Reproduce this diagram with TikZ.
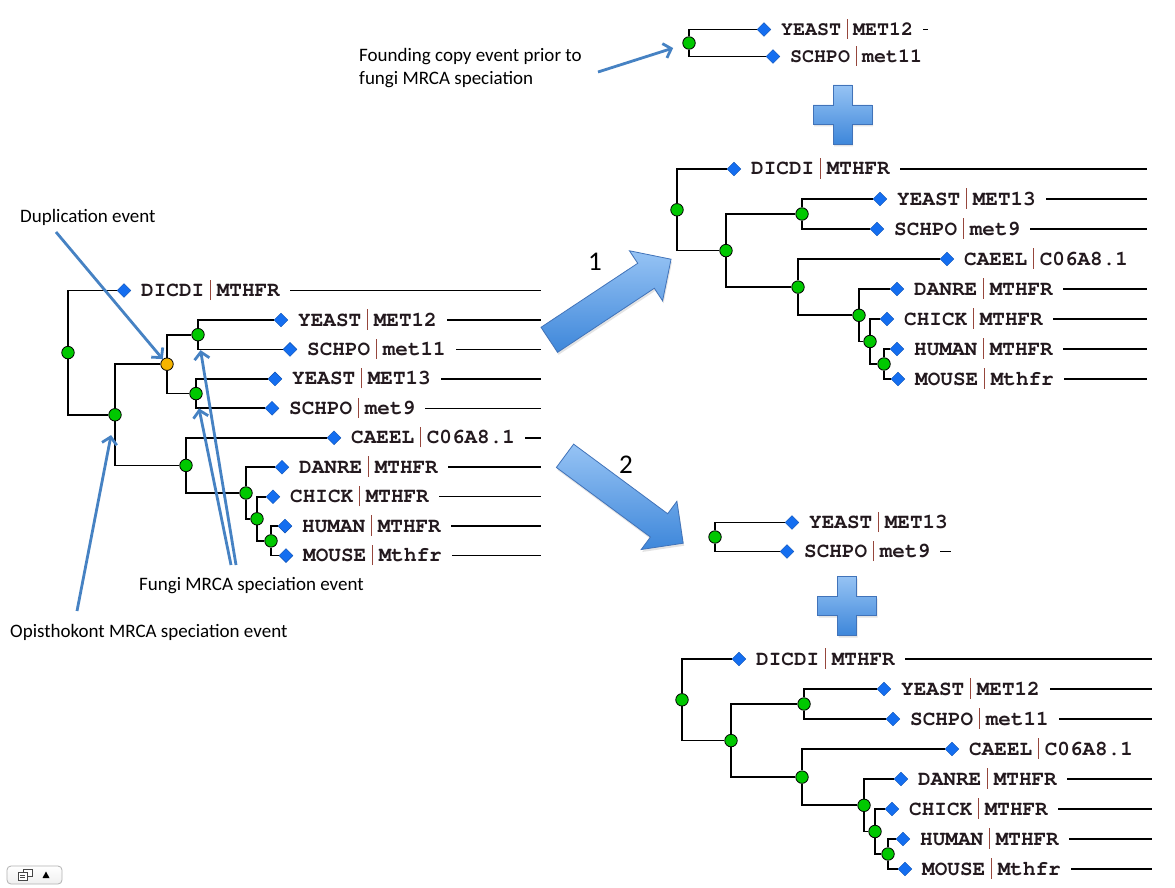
\documentclass[tikz,border=0pt]{standalone}
\usepackage[T1]{fontenc}
\usepackage{fontspec}
\setmainfont{Carlito}
\usetikzlibrary{shapes.geometric,arrows.meta,shadows,calc}
\definecolor{nodegreen}{RGB}{0,200,0}
\definecolor{dupyellow}{RGB}{245,180,0}
\definecolor{leafblue}{RGB}{20,110,240}
\definecolor{txtcol}{RGB}{35,25,30}
\definecolor{barcol}{RGB}{150,70,60}
\definecolor{annblue}{RGB}{70,130,195}
\definecolor{blight}{RGB}{150,195,244}
\definecolor{bdark}{RGB}{62,135,218}
\definecolor{bedge}{RGB}{65,115,185}
\newcommand\cour{\fontencoding{T1}\fontfamily{pcr}\fontseries{b}\selectfont}
\newcommand\gbar{\makebox[0.6em]{\textcolor{barcol}{\rule[-0.17em]{0.06em}{0.97em}}}}
\def\lsz{21}
\newcommand\LeafN[5]{%
  \node[leafd] (#1) at (#2,#3) {};
  \node[lbl] (#1t) at ({#2+17},{#3+6}) {#4\gbar#5};}
\newcommand\Leaf[6]{%
  \LeafN{#1}{#2}{#3}{#4}{#5}%
  \coordinate (#1e) at (#6,#3);
  \draw[rline] ($(#1t.east |- #1e)+(10,0)$) -- (#1e);}
\tikzset{
  gn/.style={circle, draw=black, line width=0.8pt, fill=nodegreen, minimum size=12.5pt, inner sep=0},
  yn/.style={gn, fill=dupyellow},
  leafd/.style={diamond, fill=leafblue, draw=leafblue!75!black, line width=0.4pt, minimum width=14pt, minimum height=14pt, inner sep=0},
  lbl/.style={anchor=base west, inner sep=0, text=txtcol, font=\cour\fontsize{\lsz}{\lsz}\selectfont},
  edge/.style={line width=1.7pt, black},
  rline/.style={line width=1.5pt, black},
  ann/.style={anchor=base west, inner sep=0, font=\fontsize{19}{22}\selectfont, text=black},
  num/.style={inner sep=0, font=\fontsize{27}{30}\selectfont, text=black},
  annarrow/.style={draw=annblue, line width=2.8pt, -{Straight Barb[length=7pt,width=15pt]}},
  blockshape/.style={top color=blight, bottom color=bdark, draw=bedge, line width=0.8pt,
     drop shadow={opacity=0.22, shadow xshift=1pt, shadow yshift=-2.5pt}},
}
\begin{document}
\begin{tikzpicture}[x=1pt,y=-1pt]
\useasboundingbox (0,0) rectangle (1175,888);
\fill[white] (0,0) rectangle (1175,888);

% ---------- left tree ----------
\Leaf{La}{124}{290.5}{DICDI}{MTHFR}{541}
\Leaf{Lb}{281}{320}{YEAST}{MET12}{541}
\Leaf{Lc}{290}{349.4}{SCHPO}{met11}{541}
\Leaf{Ld}{275}{378.9}{YEAST}{MET13}{541}
\Leaf{Le}{272}{408.3}{SCHPO}{met9}{541}
\Leaf{Lf}{334}{437.8}{CAEEL}{C06A8.1}{541}
\Leaf{Lg}{282}{467.2}{DANRE}{MTHFR}{541}
\Leaf{Lh}{273}{496.7}{CHICK}{MTHFR}{541}
\Leaf{Li}{285}{526.1}{HUMAN}{MTHFR}{541}
\Leaf{Lj}{286}{555.6}{MOUSE}{Mthfr}{541}
\node[gn] (LF1) at (198,334.7) {};
\node[gn] (LF2) at (196,393.6) {};
\node[yn] (Ldup) at (167,364.2) {};
\node[gn] (LFn) at (271,540.9) {};
\node[gn] (LE) at (257,518.8) {};
\node[gn] (LD) at (246,493) {};
\node[gn] (LC) at (186,465.4) {};
\node[gn] (LB) at (115,414.8) {};
\node[gn] (LR) at (68,352.6) {};
\draw[edge] (LR) |- (La); \draw[edge] (LR) |- (LB);
\draw[edge] (LB) |- (Ldup); \draw[edge] (LB) |- (LC);
\draw[edge] (Ldup) |- (LF1); \draw[edge] (Ldup) |- (LF2);
\draw[edge] (LF1) |- (Lb); \draw[edge] (LF1) |- (Lc);
\draw[edge] (LF2) |- (Ld); \draw[edge] (LF2) |- (Le);
\draw[edge] (LC) |- (Lf); \draw[edge] (LC) |- (LD);
\draw[edge] (LD) |- (Lg); \draw[edge] (LD) |- (LE);
\draw[edge] (LE) |- (Lh); \draw[edge] (LE) |- (LFn);
\draw[edge] (LFn) |- (Li); \draw[edge] (LFn) |- (Lj);

% ---------- top small tree ----------
\begin{scope}
\def\lsz{20}
\Leaf{Ta}{764}{29.5}{YEAST}{MET12}{928}
\LeafN{Tb}{773}{56.5}{SCHPO}{met11}
\end{scope}
\node[gn] (TR) at (689,43) {};
\draw[edge] (TR) |- (Ta); \draw[edge] (TR) |- (Tb);

% ---------- right tree (1) ----------
\Leaf{Ma}{734}{169}{DICDI}{MTHFR}{1147}
\Leaf{Mb}{880}{199}{YEAST}{MET13}{1147}
\Leaf{Mc}{877}{229}{SCHPO}{met9}{1147}
\LeafN{Md}{947}{259}{CAEEL}{C06A8.1}
\Leaf{Me}{897}{289}{DANRE}{MTHFR}{1147}
\Leaf{Mf}{887}{319}{CHICK}{MTHFR}{1147}
\Leaf{Mg}{897}{349}{HUMAN}{MTHFR}{1147}
\Leaf{Mh}{898}{379}{MOUSE}{Mthfr}{1147}
\node[gn] (MF) at (802,214) {};
\node[gn] (MFn) at (884,364) {};
\node[gn] (ME) at (870,341.5) {};
\node[gn] (MD) at (859,315.3) {};
\node[gn] (MC) at (798,287.1) {};
\node[gn] (MB) at (726,250.6) {};
\node[gn] (MR) at (677,209.8) {};
\draw[edge] (MR) |- (Ma); \draw[edge] (MR) |- (MB);
\draw[edge] (MB) |- (MF); \draw[edge] (MB) |- (MC);
\draw[edge] (MF) |- (Mb); \draw[edge] (MF) |- (Mc);
\draw[edge] (MC) |- (Md); \draw[edge] (MC) |- (MD);
\draw[edge] (MD) |- (Me); \draw[edge] (MD) |- (ME);
\draw[edge] (ME) |- (Mf); \draw[edge] (ME) |- (MFn);
\draw[edge] (MFn) |- (Mg); \draw[edge] (MFn) |- (Mh);

% ---------- bottom small tree ----------
\LeafN{Sa}{792}{522.5}{YEAST}{MET13}
\Leaf{Sb}{787}{551.5}{SCHPO}{met9}{951}
\node[gn] (SR) at (715,537) {};
\draw[edge] (SR) |- (Sa); \draw[edge] (SR) |- (Sb);

% ---------- bottom tree (2) ----------
\Leaf{Na}{739}{659}{DICDI}{MTHFR}{1152}
\Leaf{Nb}{884}{689}{YEAST}{MET12}{1152}
\Leaf{Nc}{893}{719}{SCHPO}{met11}{1152}
\LeafN{Nd}{952}{749}{CAEEL}{C06A8.1}
\Leaf{Ne}{901}{779}{DANRE}{MTHFR}{1152}
\Leaf{Nf}{892}{809}{CHICK}{MTHFR}{1152}
\Leaf{Ng}{903}{839}{HUMAN}{MTHFR}{1152}
\Leaf{Nh}{905}{869}{MOUSE}{Mthfr}{1152}
\node[gn] (NF) at (804,704) {};
\node[gn] (NFn) at (888,854) {};
\node[gn] (NE) at (875,831.5) {};
\node[gn] (ND) at (864,805.3) {};
\node[gn] (NC) at (802,777.1) {};
\node[gn] (NB) at (731,740.6) {};
\node[gn] (NR) at (682,699.8) {};
\draw[edge] (NR) |- (Na); \draw[edge] (NR) |- (NB);
\draw[edge] (NB) |- (NF); \draw[edge] (NB) |- (NC);
\draw[edge] (NF) |- (Nb); \draw[edge] (NF) |- (Nc);
\draw[edge] (NC) |- (Nd); \draw[edge] (NC) |- (ND);
\draw[edge] (ND) |- (Ne); \draw[edge] (ND) |- (NE);
\draw[edge] (NE) |- (Nf); \draw[edge] (NE) |- (NFn);
\draw[edge] (NFn) |- (Ng); \draw[edge] (NFn) |- (Nh);

% ---------- block arrows ----------
\begin{scope}[shift={(549.3,339.8)}, rotate=33.5]
\shade[blockshape] (0,-15) -- (116,-15) -- (116,-30) -- (146,0) -- (116,30) -- (116,15) -- (0,15) -- cycle;
\end{scope}
\begin{scope}[shift={(565,455.8)}, rotate=-36.5]
\shade[blockshape] (0,-14.5) -- (117,-14.5) -- (117,-30) -- (147,0) -- (117,30) -- (117,14.5) -- (0,14.5) -- cycle;
\end{scope}
\node[num] (n1) at (595,262) {1};
\node[num] (n2) at (626,465) {2};

% ---------- plus signs ----------
\begin{scope}[shift={(842.5,114.5)}]
\shade[blockshape] (-9.5,-29.5) -- (9.5,-29.5) -- (9.5,-9.5) -- (29.5,-9.5) -- (29.5,9.5) -- (9.5,9.5) -- (9.5,29.5) -- (-9.5,29.5) -- (-9.5,9.5) -- (-29.5,9.5) -- (-29.5,-9.5) -- (-9.5,-9.5) -- cycle;
\end{scope}
\begin{scope}[shift={(847,605.5)}]
\shade[blockshape] (-9.5,-29.5) -- (9.5,-29.5) -- (9.5,-9.5) -- (29.5,-9.5) -- (29.5,9.5) -- (9.5,9.5) -- (9.5,29.5) -- (-9.5,29.5) -- (-9.5,9.5) -- (-29.5,9.5) -- (-29.5,-9.5) -- (-9.5,-9.5) -- cycle;
\end{scope}

% ---------- annotations ----------
\node[ann] (tdup) at (20,222) {Duplication event};
\node[ann] (tfungi) at (139,590) {Fungi MRCA speciation event};
\node[ann] (topis) at (10,637) {Opisthokont MRCA speciation event};
\node[ann] (tfound1) at (359,61.7) {Founding copy event prior to};
\node[ann] (tfound2) at (359,84.2) {fungi MRCA speciation};
\coordinate (adup) at (56,232);
\coordinate (af1) at (236,565);
\coordinate (af2) at (231,565);
\coordinate (aop) at (77,611);
\coordinate (afo) at (598,72);
\draw[annarrow] (adup) -- (Ldup);
\draw[annarrow, shorten >=9pt] (af1) -- (LF1);
\draw[annarrow, shorten >=8.5pt] (af2) -- (LF2);
\draw[annarrow, shorten >=14pt] (aop) -- (LB);
\draw[annarrow, shorten >=10pt] (afo) -- (TR);

% ---------- bottom-left widget ----------
\draw[rounded corners=4pt, draw=gray!60, top color=white, bottom color=gray!12, line width=0.8pt] (7,866) rectangle (62,884);
\draw[gray!55!black, line width=0.6pt, fill=white] (23,869) rectangle (32,876);
\draw[gray!55!black, line width=0.6pt, fill=white] (18,872) rectangle (27,880);
\draw[gray!55!black, line width=0.5pt] (20,875) -- (25,875) (20,877) -- (25,877);
\fill[black] (42.5,878) -- (49.5,878) -- (46,871.5) -- cycle;
\end{tikzpicture}
\end{document}
